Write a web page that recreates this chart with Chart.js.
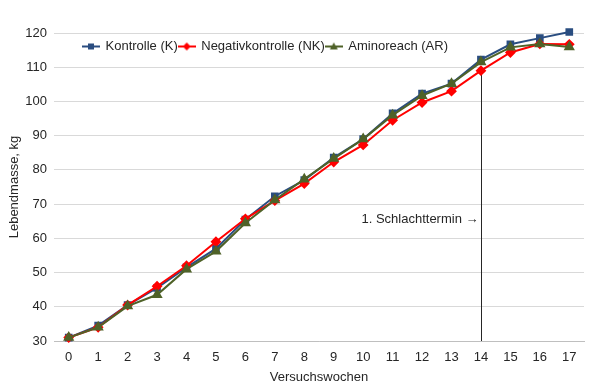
<!DOCTYPE html>
<html>
<head>
<meta charset="utf-8">
<script src="https://cdn.jsdelivr.net/npm/chart.js@4.4.1/dist/chart.umd.min.js"></script>
<style>
    html, body { margin: 0; padding: 0; background: #fff; }
</style>
</head>
<body>
<canvas id="chart" width="600" height="389"></canvas>
<script>
// Versuchswochen 0..17
var wochen = ['0', '1', '2', '3', '4', '5', '6', '7', '8', '9', '10', '11', '12', '13', '14', '15', '16', '17'];
// Lebendmasse in kg
var kontrolle = [31.0, 34.5, 40.5, 45.5, 51.5, 57.0, 65.5, 72.3, 77.0, 83.6, 89.0, 96.5, 102.3, 105.2, 112.2, 116.7, 118.5, 120.3];
var negativkontrolle = [31.0, 34.0, 40.5, 46.0, 52.0, 59.0, 65.7, 71.0, 76.0, 82.3, 87.3, 94.5, 99.7, 103.0, 109.0, 114.3, 116.8, 116.7];
var aminoreach = [31.0, 34.0, 40.2, 43.5, 51.0, 56.2, 64.5, 71.2, 77.3, 83.3, 89.0, 96.0, 101.7, 105.2, 111.5, 115.8, 116.8, 115.9];

// 1. Schlachttermin
var schlachtWoche = 14;
var schlachtLinieVon = 108.2;
var schlachtText = '1. Schlachttermin \u2192';
var schlachtTextY = 65.5;

var blau = '#2a4d80';
var rot = '#ff0000';
var gruen = '#4f6228';
var schrift = '"Liberation Sans", Arial, sans-serif';

// kleines Legendensymbol: Linie mit Marker
function legendIcon(color, style) {
    var c = document.createElement('canvas');
    c.width = 18;
    c.height = 10;
    var g = c.getContext('2d');
    g.strokeStyle = color;
    g.fillStyle = color;
    g.lineWidth = 2;
    g.beginPath();
    g.moveTo(0, 5);
    g.lineTo(18, 5);
    g.stroke();
    g.beginPath();
    if (style == 'rect') {
        g.rect(6, 2, 6, 6);
    } else if (style == 'rectRot') {
        g.moveTo(9, 1); g.lineTo(13, 5); g.lineTo(9, 9); g.lineTo(5, 5);
    } else {
        g.moveTo(9, 1); g.lineTo(13, 8); g.lineTo(5, 8);
    }
    g.closePath();
    g.fill();
    return c;
}

var icons = [legendIcon(blau, 'rect'), legendIcon(rot, 'rectRot'), legendIcon(gruen, 'triangle')];

// Legende (oben) in die Zeichenfläche verschieben
var legendPos = {
    id: 'legendPos',
    afterLayout: function (chart) {
        var lg = chart.legend;
        var h = lg.bottom - lg.top;
        lg.left = chart.chartArea.left + 28;
        lg.top = chart.chartArea.top + 6;
        lg.bottom = lg.top + h;
    }
};

// senkrechte Linie + Beschriftung
var schlachtPlugin = {
    id: 'schlacht',
    beforeDatasetsDraw: function (chart) {
        var ctx = chart.ctx, x = chart.scales.x, y = chart.scales.y;
        var px = Math.round(x.getPixelForValue(schlachtWoche)) + 0.5;
        ctx.save();
        ctx.strokeStyle = '#262626';
        ctx.lineWidth = 1;
        ctx.beginPath();
        ctx.moveTo(px, y.getPixelForValue(schlachtLinieVon));
        ctx.lineTo(px, y.getPixelForValue(30));
        ctx.stroke();
        ctx.fillStyle = '#262626';
        ctx.font = '13px ' + schrift;
        ctx.textAlign = 'right';
        ctx.textBaseline = 'middle';
        ctx.fillText(schlachtText, px - 3, y.getPixelForValue(schlachtTextY));
        ctx.restore();
    }
};

new Chart(document.getElementById('chart').getContext('2d'), {
    type: 'line',
    data: {
        labels: wochen,
        datasets: [
            {
                label: 'Kontrolle (K)',
                data: kontrolle,
                borderColor: blau,
                backgroundColor: blau,
                borderWidth: 2,
                pointStyle: 'rect',
                pointRadius: 4,
                clip: 10,
                order: 3
            },
            {
                label: 'Negativkontrolle (NK)',
                data: negativkontrolle,
                borderColor: rot,
                backgroundColor: rot,
                borderWidth: 2,
                pointStyle: 'rectRot',
                pointRadius: 4,
                clip: 10,
                order: 2
            },
            {
                label: 'Aminoreach (AR)',
                data: aminoreach,
                borderColor: gruen,
                backgroundColor: gruen,
                borderWidth: 2,
                pointStyle: 'triangle',
                pointRadius: 4.5,
                clip: 10,
                order: 1
            }
        ]
    },
    options: {
        responsive: false,
        animation: false,
        layout: { padding: { top: 9, right: 16, bottom: 0, left: 0 } },
        plugins: {
            tooltip: { enabled: false },
            legend: {
                position: 'top',
                align: 'start',
                labels: {
                    color: '#262626',
                    font: { family: schrift, size: 13 },
                    usePointStyle: true,
                    pointStyleWidth: 16,
                    padding: 1,
                    sort: function (a, b) { return a.datasetIndex - b.datasetIndex; },
                    generateLabels: function (chart) {
                        return chart.data.datasets.map(function (ds, i) {
                            return {
                                text: ds.label,
                                pointStyle: icons[i],
                                fillStyle: ds.borderColor,
                                strokeStyle: ds.borderColor,
                                fontColor: '#262626',
                                lineWidth: 0,
                                datasetIndex: i
                            };
                        });
                    }
                }
            }
        },
        scales: {
            x: {
                offset: true,
                grid: { display: false, drawTicks: false },
                border: { display: true, color: '#bfbfbf' },
                ticks: { color: '#262626', font: { family: schrift, size: 13 }, padding: 9, maxRotation: 0, autoSkip: false },
                title: { display: true, text: 'Versuchswochen', color: '#262626', font: { family: schrift, size: 13 }, padding: { top: 0, bottom: 4 } },
                afterFit: function (axis) { axis.height = 48; }
            },
            y: {
                min: 30,
                max: 120,
                ticks: { stepSize: 10, color: '#262626', font: { family: schrift, size: 13 }, padding: 7 },
                grid: { color: '#d9d9d9', drawTicks: false },
                border: { display: false },
                title: { display: true, text: 'Lebendmasse, kg', color: '#262626', font: { family: schrift, size: 13 }, padding: { top: 7, bottom: 0 } },
                afterFit: function (axis) { axis.width = 54; }
            }
        }
    },
    plugins: [legendPos, schlachtPlugin]
});
</script>
</body>
</html>
